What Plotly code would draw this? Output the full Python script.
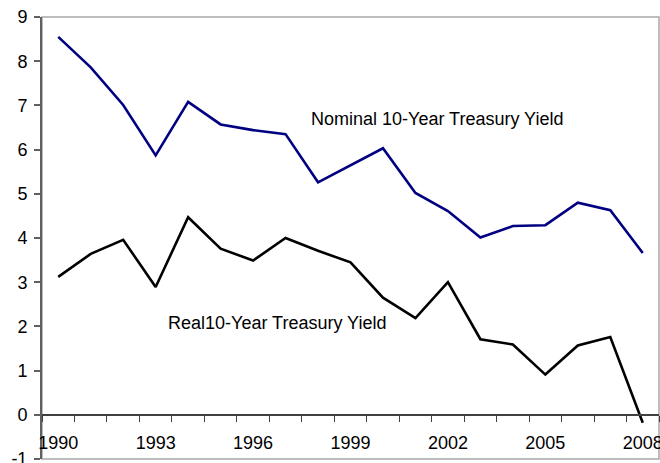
import plotly.graph_objects as go

years = list(range(1990, 2009))
nominal = [8.55, 7.86, 7.01, 5.87, 7.08, 6.57, 6.44, 6.35, 5.26, 5.65, 6.03, 5.02, 4.61, 4.01, 4.27, 4.29, 4.80, 4.63, 3.66]
real = [3.12, 3.64, 3.96, 2.89, 4.47, 3.76, 3.49, 4.00, 3.71, 3.45, 2.65, 2.19, 3.00, 1.71, 1.59, 0.91, 1.57, 1.76, -0.18]
year_labels = [str(y) if (y - 1990) % 3 == 0 else "" for y in years]
yticks = list(range(-1, 10))
ytick_labels = [str(v) for v in yticks]

idx = list(range(len(years)))

fig = go.Figure()
fig.add_trace(go.Scatter(x=idx, y=nominal, mode="lines",
                         line=dict(color="#000080", width=2.6), name="Nominal"))
fig.add_trace(go.Scatter(x=idx, y=real, mode="lines",
                         line=dict(color="#000000", width=2.6), name="Real"))

font = "Liberation Sans, Arial, sans-serif"

fig.update_layout(
    width=660, height=463,
    margin=dict(l=42, r=1, t=17, b=4),
    paper_bgcolor="white", plot_bgcolor="white",
    showlegend=False,
    font=dict(family=font, size=18, color="#000000"),
    xaxis=dict(
        range=[-0.5, len(years) - 0.5],
        tickvals=[i for i, t in enumerate(year_labels) if t],
        ticktext=[t for t in year_labels if t],
        ticks="",
        showgrid=False, zeroline=False,
        showline=True, linecolor="#404040", linewidth=1.5,
        anchor="free", position=0.1,
        ticklabelstandoff=12,
        ticklabeloverflow="allow",
        automargin=False,
        minor=dict(tick0=-0.5, dtick=1, ticks="outside", ticklen=6,
                   tickcolor="#404040", tickwidth=1.2, showgrid=False),
        tickfont=dict(size=18, color="#000000"),
    ),
    yaxis=dict(
        range=[-1, 9],
        tickvals=yticks,
        ticktext=ytick_labels,
        ticks="outside", ticklen=6, tickcolor="#606060", tickwidth=1.5,
        showgrid=False, zeroline=False,
        showline=True, linecolor="#606060", linewidth=2,
        ticklabelstandoff=3,
        ticklabeloverflow="allow",
        automargin=False,
        tickfont=dict(size=18, color="#000000"),
    ),
    shapes=[dict(type="rect", xref="paper", yref="paper", x0=0, y0=0, x1=1, y1=1,
                 line=dict(color="#a8a8a8", width=1.5), layer="below")],
    annotations=[
        dict(text="Nominal 10-Year Treasury Yield", x=7.72, y=6.70, xref="x", yref="y",
             xanchor="left", yanchor="middle", showarrow=False,
             font=dict(size=18, color="#000000")),
        dict(text="Real10-Year Treasury Yield", x=3.32, y=2.08, xref="x", yref="y",
             xanchor="left", yanchor="middle", showarrow=False,
             font=dict(size=18, color="#000000")),
    ],
)

fig.write_html("out.html", config={"displayModeBar": False},
               post_script="document.body.style.margin='0';document.body.style.overflow='hidden';")
